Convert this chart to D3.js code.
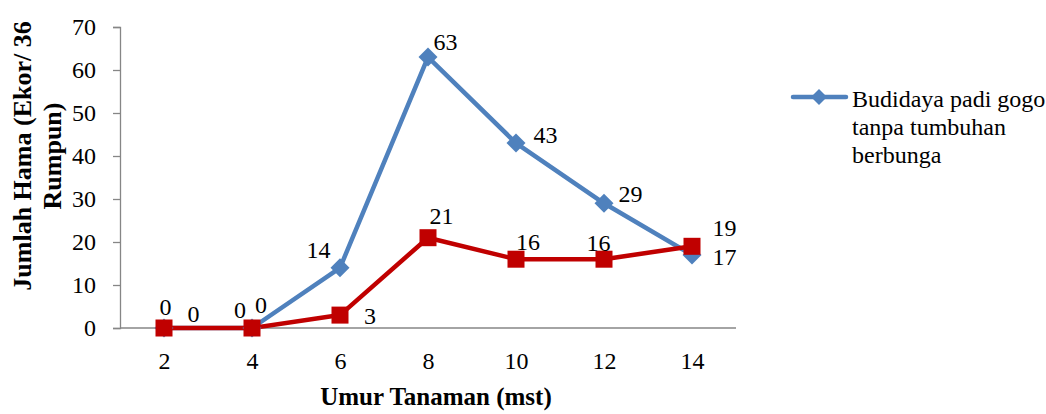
<!DOCTYPE html>
<html><head><meta charset="utf-8">
<script src="https://cdn.jsdelivr.net/npm/d3@7"></script>
</head><body style="margin:0;background:#fff"><div id="chart"></div>
<script>
const categories = ["2","4","6","8","10","12","14"];
const seriesBlue = [0,0,14,63,43,29,17];
const seriesRed = [0,0,3,21,16,16,19];
const yTicks = [0,10,20,30,40,50,60,70];
const legendLabel = ["Budidaya padi gogo","tanpa tumbuhan","berbunga"];
const blueLabelPlace = ["above","aboveLeftS","aboveLeft","aboveRight","rightUp","rightUp2","rightLow"];
const redLabelPlace = ["rightZero","aboveRightS","rightDown","aboveRightM","aboveRightN","aboveS","rightHigh"];

const place = {
  above:[1.5,-21], aboveLeftS:[-12,-18], aboveLeft:[-21.5,-17.5], aboveRight:[17.5,-15.5],
  rightUp:[29.5,-8.5], rightUp2:[26.5,-9], rightLow:[32.5,2.5],
  rightZero:[29.5,-14.5], aboveRightS:[9,-23], rightDown:[30,1], aboveRightM:[13.5,-21.5],
  aboveRightN:[12,-17], aboveS:[-5.5,-16], rightHigh:[32.5,-18]
};
const FONT = "Liberation Serif";

const W=1046,H=414, m={l:120,t:27,r:310,b:86};
const svg=d3.select("#chart").append("svg").attr("width",W).attr("height",H).style("display","block")
  .style("font-family",FONT).attr("font-family",FONT);
const x=d3.scalePoint().domain(categories).range([m.l,W-m.r]).padding(0.5);
const y=d3.scaleLinear().domain([0,70]).range([H-m.b,m.t]);
const gray="#868686";

const yAx=svg.append("g").attr("transform",`translate(${m.l},0)`)
  .call(d3.axisLeft(y).tickValues(yTicks).tickSize(7).tickPadding(17).tickFormat(d3.format("d")));
yAx.attr("font-family",FONT).attr("font-size",24);
yAx.selectAll("path,line").attr("stroke",gray).attr("stroke-width",1.3);
yAx.selectAll("text").attr("font-size",24).attr("fill","#000").style("font-family",FONT);

const xAx=svg.append("g").attr("transform",`translate(0,${H-m.b})`)
  .call(d3.axisBottom(x).tickSize(0).tickPadding(24));
xAx.attr("font-family",FONT).attr("font-size",24);
xAx.select("path").attr("d",`M${m.l},0H${W-m.r}`).attr("stroke",gray).attr("stroke-width",1.3);
xAx.selectAll("text").attr("font-size",24).attr("fill","#000").style("font-family",FONT);

const series=[
  {v:seriesBlue,c:"#4F81BD",shape:"diamond",lp:blueLabelPlace},
  {v:seriesRed,c:"#C00000",shape:"square",lp:redLabelPlace}
];
const line=d3.line().x((d,i)=>x(categories[i])).y(d=>y(d));
series.forEach(s=>{
  svg.append("path").attr("d",line(s.v)).attr("fill","none").attr("stroke",s.c).attr("stroke-width",4.5).attr("stroke-linejoin","round");
});
series.forEach(s=>{
  s.v.forEach((d,i)=>{
    const cx=x(categories[i]), cy=y(d);
    if(s.shape==="diamond"){
      const r=9.5;
      svg.append("path").attr("d",`M${cx},${cy-r}L${cx+r},${cy}L${cx},${cy+r}L${cx-r},${cy}Z`).attr("fill",s.c);
    } else {
      const r=8.5;
      svg.append("rect").attr("x",cx-r).attr("y",cy-r).attr("width",2*r).attr("height",2*r).attr("fill",s.c);
    }
  });
});
series.forEach(s=>{
  s.v.forEach((d,i)=>{
    const o=place[s.lp[i]];
    svg.append("text").attr("x",x(categories[i])+o[0]).attr("y",y(d)+o[1]).attr("text-anchor","middle")
      .attr("dominant-baseline","central").attr("font-size",24).attr("fill","#000").style("font-family",FONT).text(d);
  });
});

// axis titles
svg.append("text").attr("transform","translate(22,156) rotate(-90)").attr("text-anchor","middle")
  .attr("dominant-baseline","central").attr("font-size",26).attr("font-weight","bold").style("font-family",FONT).text("Jumlah Hama (Ekor/ 36");
svg.append("text").attr("transform","translate(52,156) rotate(-90)").attr("text-anchor","middle")
  .attr("dominant-baseline","central").attr("font-size",26).attr("font-weight","bold").style("font-family",FONT).text("Rumpun)");
svg.append("text").attr("x",436).attr("y",405).attr("text-anchor","middle")
  .attr("font-size",25).attr("font-weight","bold").style("font-family",FONT).text("Umur Tanaman (mst)");

// legend
const lg=svg.append("g");
lg.append("line").attr("x1",793).attr("x2",846).attr("y1",97).attr("y2",97).attr("stroke","#4F81BD").attr("stroke-width",4.5).attr("stroke-linecap","round");
lg.append("path").attr("d","M819,89L827,97L819,105L811,97Z").attr("fill","#4F81BD");
legendLabel.forEach((t,i)=>{
  lg.append("text").attr("x",852).attr("y",107+i*28).attr("font-size",24).attr("fill","#000").style("font-family",FONT).text(t);
});
</script></body></html>
